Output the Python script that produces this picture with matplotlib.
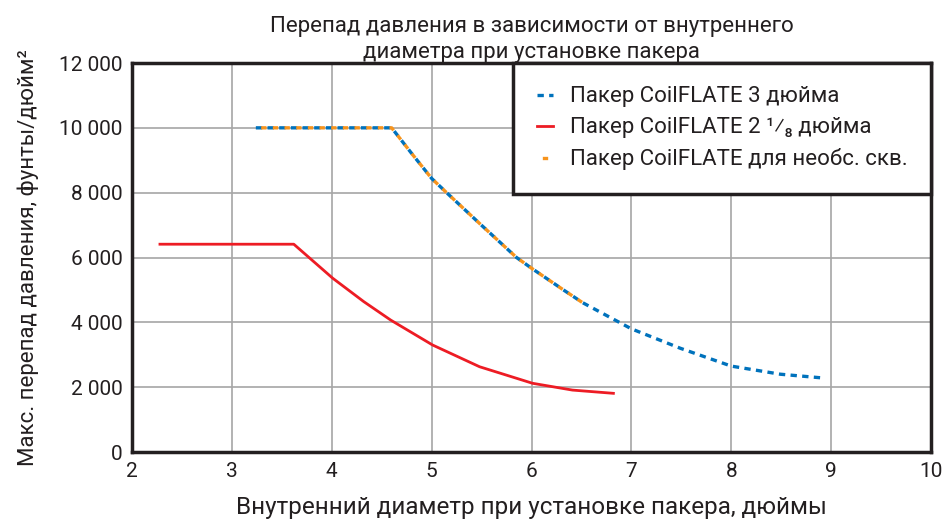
import matplotlib
matplotlib.use('Agg')

import matplotlib.pyplot as plt
from matplotlib.ticker import FuncFormatter

plt.rcParams['font.family'] = ['Roboto', 'DejaVu Sans']

# Пакер CoilFLATE 3 дюйма
x_3in = [3.24, 4.6, 4.8, 5.0, 5.15, 5.48, 5.85, 6.0, 6.32, 6.51, 7.0, 7.49, 8.0, 8.49, 8.93]
y_3in = [10000, 10000, 9210, 8440, 8000, 7050, 6000, 5670, 5000, 4610, 3800, 3200, 2650, 2400, 2280]

# Пакер CoilFLATE 2 1/8 дюйма
x_218 = [2.28, 3.62, 4.01, 4.32, 4.59, 5.01, 5.48, 6.01, 6.41, 6.82]
y_218 = [6410, 6410, 5360, 4640, 4070, 3300, 2630, 2120, 1910, 1810]

# Пакер CoilFLATE для необс. скв.
x_open = [3.24, 4.6, 4.8, 5.0, 5.15, 5.48, 5.85, 6.0, 6.32, 6.51]
y_open = [10000, 10000, 9210, 8440, 8000, 7050, 6000, 5670, 5000, 4610]

xticks = [2, 3, 4, 5, 6, 7, 8, 9, 10]
yticks = [0, 2000, 4000, 6000, 8000, 10000, 12000]

fig = plt.figure(figsize=(9.49, 5.29), dpi=100)
ax = fig.add_axes([132 / 949, 1 - 452 / 529, 799 / 949, 389 / 529])

red, = ax.plot(x_218, y_218, color='#ed1c24', lw=2.0, label='Пакер CoilFLATE 2 ¹⁄₈ дюйма', zorder=3)
blue, = ax.plot(x_3in, y_3in, color='#0072bc', lw=2.4, linestyle=(0, (1.9, 1.6)),
                dash_capstyle='butt', label='Пакер CoilFLATE 3 дюйма', zorder=4)
orange, = ax.plot(x_open, y_open, color='#f7941d', lw=2.4, linestyle=(1.9, (1.6, 1.9)),
                  dash_capstyle='butt', label='Пакер CoilFLATE для необс. скв.', zorder=5)

ax.set_xlim(2, 10)
ax.set_ylim(0, 12000)
ax.set_xticks(xticks)
ax.set_yticks(yticks)
ax.yaxis.set_major_formatter(FuncFormatter(lambda v, p: f'{int(v):,}'.replace(',', ' ')))
ax.tick_params(length=0, labelsize=15, pad=7, labelcolor='#231f20')
ax.grid(True, color='#a6a6a6', lw=1.2)
ax.set_axisbelow(True)
for s in ax.spines.values():
    s.set_linewidth(2.5)
    s.set_color('#231f20')

ax.set_xlabel('Внутренний диаметр при установке пакера, дюймы', fontsize=17.5, labelpad=11, color='#231f20')
ax.set_ylabel('Макс. перепад давления, фунты/дюйм²', fontsize=16, labelpad=14, color='#231f20')
ax.set_title('Перепад давления в зависимости от внутреннего\nдиаметра при установке пакера',
             fontsize=16, pad=3, linespacing=1.3, color='#231f20')

leg = ax.legend(handles=[blue, red, orange], loc='upper right', bbox_to_anchor=(1.0, 1.0),
                fontsize=16, frameon=True, fancybox=False, handlelength=0.75,
                handletextpad=0.75, borderpad=1.05, labelspacing=0.45, borderaxespad=0)
for t in leg.get_texts():
    t.set_color('#231f20')
leg.get_frame().set_edgecolor('#231f20')
leg.get_frame().set_linewidth(2.5)
leg.get_frame().set_facecolor('white')
leg.get_frame().set_alpha(1)

fig.savefig('out.png', dpi=100)
